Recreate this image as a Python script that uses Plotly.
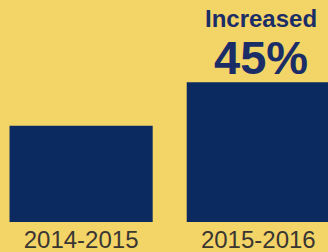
import plotly.graph_objects as go

periods = ["2014-2015", "2015-2016"]
values = [100, 145]
headline = "Increased"

pct = round((values[1] - values[0]) / values[0] * 100)

BG = "#f3d467"
NAVY = "#0b2a5f"

fig = go.Figure()
fig.add_trace(go.Bar(x=periods, y=values, marker=dict(color=NAVY, line=dict(width=0)),
                     hoverinfo="skip"))

label = ("<span style='font-size:24px'><b>%s</b></span><br>"
         "<span style='font-size:47px'><b>%d%%</b></span>") % (headline, pct)
fig.add_annotation(x=periods[1], y=184, text=label, showarrow=False, xshift=3,
                   align="center",
                   font=dict(family="Liberation Sans, Arial", size=36, color="#1b2d66"))

fig.update_layout(
    width=328, height=252,
    margin=dict(l=0, r=0, t=0, b=30),
    paper_bgcolor=BG, plot_bgcolor=BG,
    bargap=0.192,
    showlegend=False,
    xaxis=dict(range=[-0.4577, 1.3933], showgrid=False, zeroline=False, showline=False,
               ticks="", ticklabelstandoff=1, automargin=False,
               tickfont=dict(family="Liberation Sans, Arial", size=24, color="#3a3632"),
               fixedrange=True),
    yaxis=dict(range=[0, 230.5], visible=False, fixedrange=True, automargin=False),
)

fig.write_html("out.html", config={"displayModeBar": False},
               post_script="document.body.style.margin='0';document.body.style.background='%s';" % BG)
